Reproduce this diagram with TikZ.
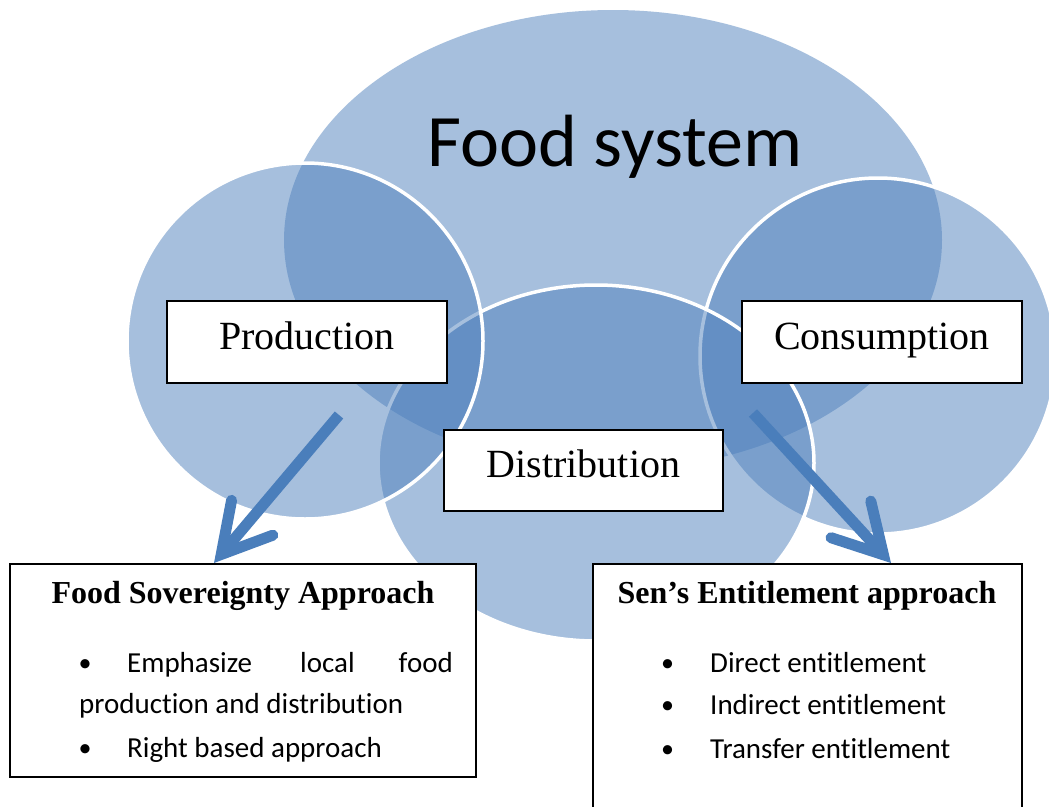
\documentclass[tikz,border=0pt]{standalone}
\usepackage{fontspec}
\setmainfont{Liberation Serif}
\newfontfamily\carlito[Ligatures={NoCommon,NoDiscretionary,NoContextual}]{Carlito}
\usetikzlibrary{arrows.meta,calc}
\definecolor{vennblue}{HTML}{4F81BD}
\definecolor{arrowblue}{HTML}{4A7EBB}
\begin{document}
\begin{tikzpicture}[x=1pt,y=-1pt,
  venn/.style={fill=vennblue, fill opacity=0.5, draw=white, line width=3.5pt},
  lbox/.style={draw=black, fill=white, line width=2pt, inner sep=0pt, minimum width=280pt,
               font=\fontsize{40}{44}\selectfont},
  bigbox/.style={draw=black, fill=white, line width=2pt, inner sep=0pt},
  hdr/.style={anchor=base, inner sep=0pt, font=\bfseries\fontsize{32}{36}\selectfont},
  btxt/.style={anchor=base west, inner sep=0pt, font=\carlito\fontsize{29}{34}\selectfont},
  bdot/.style={anchor=base, inner sep=0pt, font=\carlito\fontsize{26}{34}\selectfont},
  bigarrow/.style={draw=arrowblue, line width=11pt,
    -{Straight Barb[length=48pt,width=54pt,line cap=round,line join=miter]}}]
\useasboundingbox (0,0) rectangle (1049,806);
\fill[white] (0,0) rectangle (1049,806);
\clip (0,0) rectangle (1049,806);
% Venn shapes
\fill[vennblue, fill opacity=0.5] (613,240) ellipse [x radius=329pt, y radius=230pt];
\path[venn] (878,356) circle [radius=178pt];
\path[venn] (596,463) ellipse [x radius=218pt, y radius=178pt];
\path[venn] (305,341) circle [radius=178pt];
% title
\node[anchor=base, inner sep=0pt, font=\carlito\fontsize{74}{80}\selectfont] (title) at (615,166) {Food system};
% label boxes
\node[lbox, text height=48pt, text depth=34pt] (prod) at (307,342) {Production};
\node[lbox, text height=48pt, text depth=34pt] (cons) at (882,342) {Consumption};
\node[lbox, minimum width=279pt, text height=47pt, text depth=34pt] (dist) at (583.5,470.5) {Distribution};
% bottom boxes
\node[bigbox, minimum width=466pt, minimum height=213pt] (fsa) at (243,670.5) {};
\node[bigbox, minimum width=429pt, minimum height=266pt] (sea) at (807.5,697) {};
% arrows
\coordinate (pa) at (339,415);
\coordinate (ca) at (753,413);
\draw[bigarrow] (pa) -- ($(fsa.north west)+(205,0)$);
\draw[bigarrow] (ca) -- ($(sea.north west)+(299,0)$);
% left box text
\node[hdr] (fsah) at (243,603) {Food Sovereignty Approach};
\node[bdot] (fb1) at (85,671) {•};
\node[btxt] (f1a) at (127,672) {Emphasize};
\node[btxt] (f1b) at (300,672) {local};
\node[btxt, anchor=base east] (f1c) at (453,672) {food};
\node[btxt] (f1d) at (79,713) {production and distribution};
\node[bdot] (fb2) at (85,756) {•};
\node[btxt] (f2) at (127,757) {Right based approach};
% right box text
\node[hdr] (seah) at (807,603) {Sen’s Entitlement approach};
\node[bdot] (sb1) at (667.5,671) {•};
\node[btxt] (s1) at (710,672) {Direct entitlement};
\node[bdot] (sb2) at (667.5,713) {•};
\node[btxt] (s2) at (710,714) {Indirect entitlement};
\node[bdot] (sb3) at (667.5,757) {•};
\node[btxt] (s3) at (710,758) {Transfer entitlement};
\end{tikzpicture}
\end{document}
